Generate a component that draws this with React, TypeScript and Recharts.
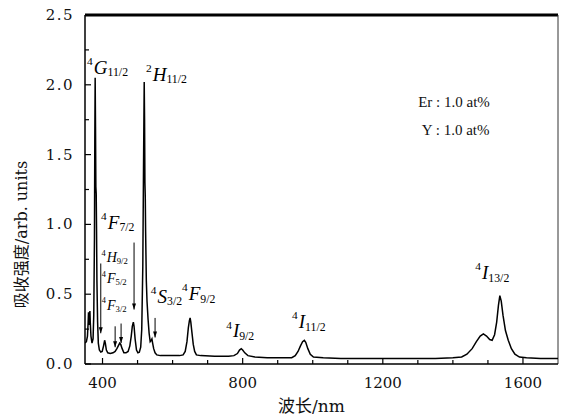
import React from 'react';
import { LineChart, Line, XAxis, YAxis, ReferenceLine, ReferenceDot } from 'recharts';

// absorption spectrum
const wavelength = [
  350, 354, 357, 359, 360, 361, 363, 364, 365, 367, 370, 373, 375, 377, 378, 379, 380, 381, 382, 383,
  384, 386, 388, 391, 395, 399, 403, 406, 408, 411, 415, 422, 430, 436, 441, 445, 449, 452, 456, 461,
  467, 473, 478, 482, 485, 488, 490, 493, 497, 501, 505, 509, 512, 515, 517, 519, 520, 521, 522, 523,
  525, 527, 530, 533, 536, 539, 541, 543, 546, 550, 555, 565, 590, 620, 630, 636, 641, 645, 648, 650,
  652, 655, 659, 663, 668, 680, 720, 760, 775, 785, 791, 796, 800, 806, 815, 835, 870, 910, 940, 950,
  958, 965, 971, 976, 980, 986, 993, 1002, 1030, 1080, 1150, 1250, 1350, 1400, 1425, 1440, 1455, 1467,
  1478, 1487, 1496, 1505, 1512, 1519, 1525, 1530, 1534, 1538, 1543, 1550, 1558, 1567, 1577, 1590, 1610,
  1650, 1700,
];
const absorbance = [
  0.15, 0.16, 0.2, 0.3, 0.37, 0.28, 0.33, 0.38, 0.3, 0.2, 0.15, 0.18, 0.35, 0.9, 1.6, 2.05, 1.7, 1.27, 1.22, 0.95,
  0.6, 0.3, 0.15, 0.1, 0.085, 0.09, 0.13, 0.17, 0.15, 0.1, 0.08, 0.075, 0.08, 0.09, 0.11, 0.13, 0.15, 0.14, 0.11, 0.08,
  0.08, 0.09, 0.13, 0.2, 0.27, 0.3, 0.27, 0.18, 0.1, 0.08, 0.085, 0.12, 0.25, 0.7, 1.4, 2.02, 1.75, 1.3, 1.2, 0.95,
  0.6, 0.45, 0.32, 0.22, 0.16, 0.17, 0.18, 0.15, 0.11, 0.08, 0.065, 0.06, 0.06, 0.06, 0.065, 0.09, 0.16, 0.26, 0.31, 0.33,
  0.3, 0.23, 0.14, 0.09, 0.065, 0.06, 0.055, 0.055, 0.06, 0.075, 0.1, 0.11, 0.1, 0.08, 0.06, 0.05, 0.045, 0.045, 0.045, 0.06,
  0.09, 0.13, 0.16, 0.17, 0.155, 0.11, 0.07, 0.05, 0.045, 0.04, 0.04, 0.04, 0.04, 0.045, 0.05, 0.07, 0.11, 0.16,
  0.2, 0.215, 0.2, 0.175, 0.17, 0.21, 0.3, 0.42, 0.49, 0.45, 0.35, 0.24, 0.17, 0.11, 0.07, 0.05, 0.045,
  0.04, 0.04,
];

const xTicks = [400, 500, 600, 700, 800, 900, 1000, 1100, 1200, 1300, 1400, 1500, 1600];
const yTicks = [0, 0.25, 0.5, 0.75, 1, 1.25, 1.5, 1.75, 2, 2.25, 2.5];

// Er3+ transition labels: superscript, letter, subscript, anchor (nm, value)
const termSup = ['4', '2', '4', '4', '4', '4', '4', '4', '4', '4', '4'];
const termLetter = ['G', 'H', 'F', 'H', 'F', 'F', 'S', 'F', 'I', 'I', 'I'];
const termSub = ['11/2', '11/2', '7/2', '9/2', '5/2', '3/2', '3/2', '9/2', '9/2', '11/2', '13/2'];
const termNm = [356, 524, 396, 397, 398, 398, 538, 627, 753, 941, 1464];
const termVal = [2.08, 2.03, 0.97, 0.73, 0.58, 0.39, 0.44, 0.46, 0.19, 0.26, 0.61];
const termSmall = [false, false, false, true, true, true, false, false, false, false, false];

// arrows pointing at the weak bands: nm, from value, to value
const arrowNm = [395, 490, 436, 453, 550];
const arrowFrom = [0.72, 0.87, 0.27, 0.29, 0.33];
const arrowTo = [0.22, 0.39, 0.12, 0.15, 0.19];

const noteLines = ['Er : 1.0 at%', 'Y : 1.0 at%'];
const noteNm = [1301, 1311];
const noteVal = [1.84, 1.64];

const SERIF = '"DejaVu Serif", "Liberation Serif", serif';
const TERM_FONT = '"Liberation Serif", "DejaVu Serif", serif';
const CJK = '"DejaVu Serif", "Noto Sans CJK SC", serif';

const data = wavelength.map((w, i) => ({ wl: w, v: absorbance[i] }));

const XTick = (props: any) => {
  const { x, y, payload } = props;
  const major = payload.value % 400 === 0;
  return (
    <g>
      <line x1={x} x2={x} y1={y} y2={y - (major ? 6 : 4)} stroke="#000" strokeWidth={1.2} />
      {major && (
        <text x={x} y={y + 24} textAnchor="middle" fontFamily={SERIF} fontSize={15} fill="#111">
          {payload.value}
        </text>
      )}
    </g>
  );
};

const YTick = (props: any) => {
  const { x, y, payload } = props;
  const major = Math.round(payload.value * 100) % 50 === 0;
  return (
    <g>
      <line x1={x} x2={x + (major ? 6 : 4)} y1={y} y2={y} stroke="#000" strokeWidth={1.2} />
      {major && (
        <text x={x - 11} y={y + 5} textAnchor="end" fontFamily={SERIF} fontSize={15} fill="#111" letterSpacing={1.5}>
          {payload.value.toFixed(1)}
        </text>
      )}
    </g>
  );
};

const YTitle = (props: any) => {
  const { viewBox } = props;
  const cy = viewBox.y + viewBox.height / 2 + 45;
  return (
    <text
      transform={`translate(27,${cy}) rotate(-90)`}
      textAnchor="middle"
      fontFamily={CJK}
      fontSize={16}
      fill="#111"
    >
      吸收强度/arb. units
    </text>
  );
};

const makeTerm = (i: number) => (p: any) => {
  const size = termSmall[i] ? 14 : 19;
  return (
    <text x={p.cx} y={p.cy} fontFamily={TERM_FONT} fill="#000">
      <tspan fontSize={size * 0.6} dy={-size * 0.45}>{termSup[i]}</tspan>
      <tspan fontSize={size} fontStyle="italic" dy={size * 0.45} dx={1}>{termLetter[i]}</tspan>
      <tspan fontSize={size * 0.62} dy={size * 0.15}>{termSub[i]}</tspan>
    </text>
  );
};

const Arrow = (p: any) => {
  const { x1, y1, x2, y2 } = p;
  return (
    <g>
      <line x1={x1} y1={y1} x2={x2} y2={y2} stroke="#000" strokeWidth={1} />
      <path d={`M${x2 - 2},${y2 - 6} L${x2},${y2} L${x2 + 2},${y2 - 6} Z`} fill="#000" />
    </g>
  );
};

const makeNote = (i: number) => (p: any) => (
  <text x={p.cx} y={p.cy} fontFamily={TERM_FONT} fontSize={15} fill="#111">
    {noteLines[i]}
  </text>
);

export default function App() {
  return (
    <div style={{ position: 'absolute', left: 0, top: 0, background: '#fff' }}>
      <LineChart width={567} height={416} data={data} margin={{ top: 15, right: 9, bottom: 2, left: 0 }}>
        <XAxis
          dataKey="wl"
          type="number"
          domain={[350, 1700]}
          allowDataOverflow
          ticks={xTicks}
          interval={0}
          tick={<XTick />}
          tickLine={false}
          tickSize={0}
          tickMargin={0}
          height={50}
          axisLine={{ stroke: '#000', strokeWidth: 1.5 }}
          label={{ value: '波长/nm', position: 'insideBottom', offset: 2, dx: -10, fontFamily: CJK, fontSize: 17, fill: '#111' }}
        />
        <YAxis
          type="number"
          domain={[0, 2.5]}
          allowDataOverflow
          ticks={yTicks}
          interval={0}
          tick={<YTick />}
          tickLine={false}
          tickSize={0}
          tickMargin={0}
          width={85}
          axisLine={{ stroke: '#000', strokeWidth: 1.5 }}
          label={<YTitle />}
        />
        <ReferenceLine y={2.5} stroke="#000" strokeWidth={3} />
        <ReferenceLine x={1700} stroke="#333" strokeWidth={1} />
        <Line
          type="linear"
          dataKey="v"
          stroke="#000"
          strokeWidth={1.5}
          dot={false}
          isAnimationActive={false}
        />
        {arrowNm.map((nm, i) => (
          <ReferenceLine
            key={`arrow-${i}`}
            segment={[{ x: nm, y: arrowFrom[i] }, { x: nm, y: arrowTo[i] }]}
            shape={Arrow}
          />
        ))}
        {termNm.map((nm, i) => (
          <ReferenceDot key={`term-${i}`} x={nm} y={termVal[i]} r={0} shape={makeTerm(i)} />
        ))}
        {noteLines.map((_, i) => (
          <ReferenceDot key={`note-${i}`} x={noteNm[i]} y={noteVal[i]} r={0} shape={makeNote(i)} />
        ))}
      </LineChart>
    </div>
  );
}
